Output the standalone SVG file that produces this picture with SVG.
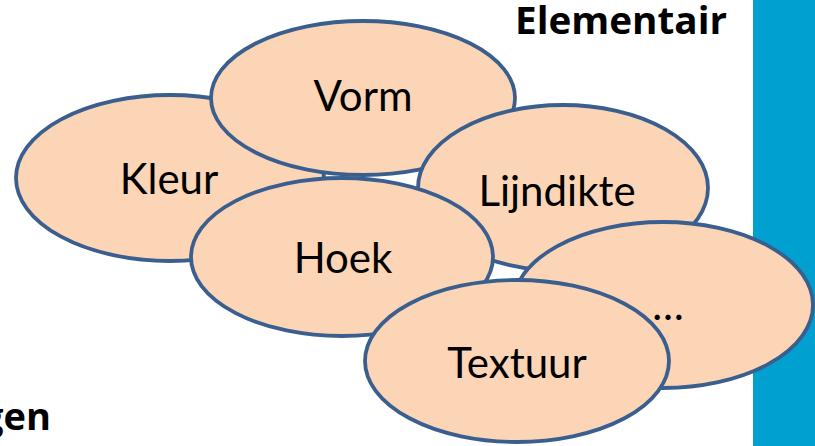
<svg xmlns="http://www.w3.org/2000/svg" width="815" height="446" viewBox="0 0 815 446">
<style>
.n ellipse{fill:#FBD5B5;stroke:#3A5F8F;stroke-width:3.8}
.n text{font-family:Lato,"Liberation Sans",sans-serif;font-size:42px;fill:#000;text-anchor:middle}
.h{font-family:"Open Sans","Liberation Sans",sans-serif;font-size:38px;font-weight:bold;fill:#000}
</style>
<rect x="753" y="0" width="62" height="446" fill="#00A0D1"/>
<text class="h" x="515" y="34" textLength="212" lengthAdjust="spacingAndGlyphs">Elementair</text>
<text class="h" x="51" y="430" text-anchor="end">gen</text>
<g id="kleur" class="n"><ellipse cx="170" cy="178" rx="154" ry="83"/><text x="169" y="194">Kleur</text></g>
<g id="vorm" class="n"><ellipse cx="363" cy="98" rx="152" ry="77"/><text x="363" y="111">Vorm</text></g>
<g id="lijndikte" class="n"><ellipse cx="563" cy="188" rx="145" ry="83"/><text x="557" y="206">Lijndikte</text></g>
<g id="hoek" class="n"><ellipse cx="342" cy="257" rx="151" ry="79"/><text x="343" y="273">Hoek</text></g>
<g id="etc" class="n"><ellipse cx="663" cy="305" rx="150" ry="83"/><text x="668" y="320">…</text></g>
<g id="textuur" class="n"><ellipse cx="517" cy="361" rx="152" ry="81"/><text x="517" y="378">Textuur</text></g>
<g id="connectors"/>
</svg>
